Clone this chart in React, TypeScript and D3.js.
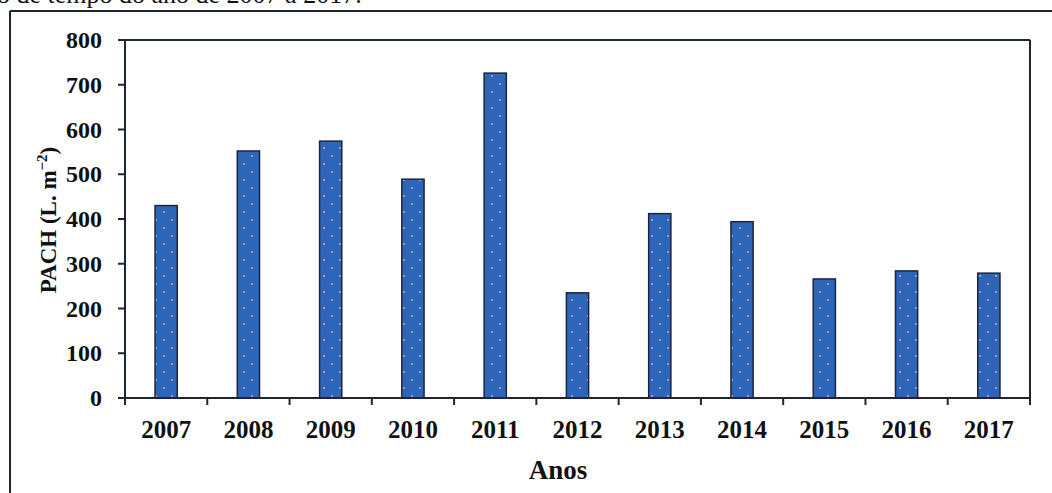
import React from "react";
import * as d3 from "d3";

const years = ["2007", "2008", "2009", "2010", "2011", "2012", "2013", "2014", "2015", "2016", "2017"];
const pachValues = [430, 552, 574, 489, 726, 235, 412, 394, 266, 284, 279];
const yTicks = [0, 100, 200, 300, 400, 500, 600, 700, 800];

const W = 1052;
const H = 493;
const margin = { left: 125, right: 22, top: 40, bottom: 95 };

export default function App() {
  const x = d3
    .scaleBand<string>()
    .domain(years)
    .range([margin.left, W - margin.right])
    .paddingInner(0.73)
    .paddingOuter(0.365);
  const y = d3.scaleLinear().domain([0, 800]).range([H - margin.bottom, margin.top]);
  const step = x.step();
  const x0 = margin.left;
  const x1 = W - margin.right;
  const y0 = y(0);
  const y1 = y(800);
  const font = "'Liberation Serif', 'Times New Roman', serif";
  const dark = "#1c2733";

  return (
    <svg width={W} height={H} style={{ position: "absolute", left: 0, top: 0, display: "block", background: "#fff" }}>
      <defs>
        <pattern id="dots" width="16" height="16" patternUnits="userSpaceOnUse">
          <rect width="16" height="16" fill="#2d65b8" />
          <circle cx="4" cy="4" r="1" fill="#e8a0c0" />
          <circle cx="12" cy="12" r="1" fill="#e8a0c0" />
        </pattern>
      </defs>
      <text x={-3} y={3} fontFamily={font} fontSize={26} fill="#111">
        o de tempo do ano de 2007 a 2017.
      </text>
      {/* outer frame */}
      <line x1={10} y1={11} x2={W} y2={11} stroke={dark} strokeWidth={2} />
      <line x1={10} y1={11} x2={10} y2={H} stroke={dark} strokeWidth={2} />

      {/* bars */}
      {years.map((yr, i) => (
        <rect
          key={yr}
          x={x(yr)}
          y={y(pachValues[i])}
          width={x.bandwidth()}
          height={y0 - y(pachValues[i])}
          fill="url(#dots)"
          stroke="#1a2540"
          strokeWidth={1.5}
        />
      ))}

      {/* plot frame */}
      <line x1={x0} y1={y1} x2={x1} y2={y1} stroke={dark} strokeWidth={2} />
      <line x1={x1} y1={y1} x2={x1} y2={y0} stroke={dark} strokeWidth={2} />
      <line x1={x0} y1={y0} x2={x1} y2={y0} stroke={dark} strokeWidth={2} />
      <line x1={x0} y1={y1} x2={x0} y2={y0} stroke={dark} strokeWidth={2} />

      {/* y ticks */}
      {yTicks.map((t) => (
        <g key={t}>
          <line x1={x0 - 7} y1={y(t)} x2={x0} y2={y(t)} stroke={dark} strokeWidth={2} />
          <text
            x={x0 - 23}
            y={y(t)}
            dy="0.34em"
            textAnchor="end"
            fontFamily={font}
            fontWeight="bold"
            fontSize={24}
            fill="#111"
          >
            {t}
          </text>
        </g>
      ))}

      {/* x ticks */}
      {d3.range(years.length + 1).map((i) => (
        <line key={i} x1={x0 + i * step} y1={y0} x2={x0 + i * step} y2={y0 + 7} stroke={dark} strokeWidth={2} />
      ))}
      {years.map((yr) => (
        <text
          key={yr}
          x={(x(yr) as number) + x.bandwidth() / 2}
          y={438}
          textAnchor="middle"
          fontFamily={font}
          fontWeight="bold"
          fontSize={25}
          fill="#111"
        >
          {yr}
        </text>
      ))}

      {/* axis titles */}
      <text x={558} y={479} textAnchor="middle" fontFamily={font} fontWeight="bold" fontSize={27} fill="#111">
        Anos
      </text>
      <text
        transform="translate(56,220) rotate(-90)"
        textAnchor="middle"
        fontFamily={font}
        fontWeight="bold"
        fontSize={23}
        fill="#111"
      >
        PACH (L. m
        <tspan dy={-9} fontSize={15}>−2</tspan>
        <tspan dy={9}>)</tspan>
      </text>
    </svg>
  );
}
